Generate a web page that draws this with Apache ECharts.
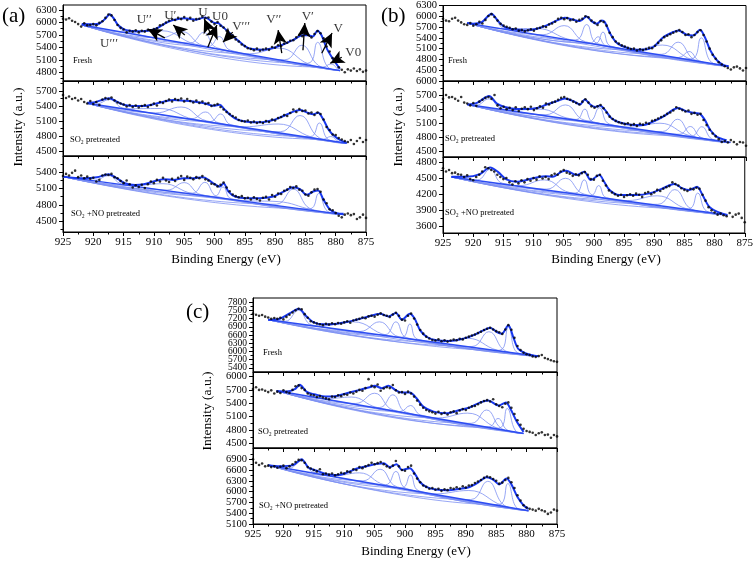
<!DOCTYPE html>
<html><head><meta charset="utf-8">
<script src="https://cdn.jsdelivr.net/npm/echarts@6/dist/echarts.min.js"></script>
<style>html,body{margin:0;padding:0;background:#fff}#c{width:756px;height:561px}</style>
</head><body><div id="c"></div>
<script>
const SERIF = '"Liberation Serif","DejaVu Serif",serif';

// Binding energy of the measured points (eV)
const energy = [925,924.5,924,923.5,923,922.5,922,921.5,921,920.5,
920,919.5,919,918.5,918,917.5,917,916.5,916,915.5,
915,914.5,914,913.5,913,912.5,912,911.5,911,910.5,
910,909.5,909,908.5,908,907.5,907,906.5,906,905.5,
905,904.5,904,903.5,903,902.5,902,901.5,901,900.5,
900,899.5,899,898.5,898,897.5,897,896.5,896,895.5,
895,894.5,894,893.5,893,892.5,892,891.5,891,890.5,
890,889.5,889,888.5,888,887.5,887,886.5,886,885.5,
885,884.5,884,883.5,883,882.5,882,881.5,881,880.5,
880,879.5,879,878.5,878,877.5,877,876.5,876,875.5,
875];

// ---------- (a) ----------
const scatA1 = [6090,6070,6100,6040,6010,5960,5900,5980,5930,5940,
5960,5930,5990,6030,6110,6190,6170,6060,5940,5870,
5830,5760,5800,5780,5810,5760,5800,5780,5820,5790,
5840,5860,5930,5950,6000,6040,6080,6060,6110,6080,
6130,6060,6110,6040,6080,6090,6140,6100,6120,6020,
5960,6010,5920,5880,5800,5720,5690,5590,5540,5470,
5430,5380,5360,5330,5370,5320,5350,5370,5340,5410,
5390,5450,5430,5490,5510,5560,5570,5640,5700,5670,
5720,5700,5640,5720,5790,5740,5620,5420,5300,5140,
5050,4920,4860,4800,4870,4840,4890,4830,4870,4810,
4840];
const fitA1 = [[921.9,5960],[920,5955],[919,5975],[918,6090],[917.3,6200],[916.5,6070],[916,5950],[915,5840],[914,5800],[912,5790],[910,5830],[909,5900],[908,5990],[907,6050],[906,6085],[905,6100],[904,6085],[903,6065],[902,6110],[901.5,6120],[900.8,6060],[900,5990],[899.4,5985],[899,5940],[898,5810],[897,5680],[896,5550],[895,5430],[894,5365],[892,5340],[890,5400],[888.5,5480],[887,5580],[885.5,5690],[884.5,5690],[883.8,5660],[883,5800],[882.3,5680],[881.5,5380],[880.5,5130],[879.3,4880]];
const baseA1 = [[921.9,5940],[879.3,4840]];
const compA1 = [
[[919.8,5910],[917.3,6170],[914.8,5782]],
[[914.3,5761],[908.7,5800],[903.1,5474]],
[[908.9,5626],[905.4,5780],[901.9,5444]],
[[904.0,5506],[901.8,5760],[899.6,5389]],
[[901.0,5423],[899.2,5660],[897.4,5332]],
[[894.2,5246],[889.3,5380],[884.4,4994]],
[[888.4,5101],[885.6,5450],[882.8,4959]],
[[884.7,5013],[883,5520],[881.3,4927]],
[[882.1,4925],[880.8,5000],[879.5,4855]]];

const scatA2 = [5620,5560,5590,5540,5560,5510,5540,5480,5450,5500,
5440,5480,5420,5530,5560,5540,5570,5510,5470,5450,
5430,5390,5420,5380,5410,5370,5400,5420,5380,5420,
5450,5410,5480,5460,5500,5530,5490,5540,5520,5550,
5490,5540,5500,5470,5510,5460,5490,5440,5460,5400,
5420,5440,5380,5330,5280,5240,5200,5170,5120,5100,
5090,5110,5070,5090,5060,5080,5060,5100,5080,5130,
5110,5160,5180,5220,5200,5260,5330,5280,5340,5300,
5310,5250,5270,5220,5270,5240,5130,4980,4920,4830,
4820,4760,4730,4700,4680,4720,4640,4700,4760,4680,
4720];
const fitA2 = [[921,5467],[920,5470],[918.9,5507],[917.4,5553],[916.1,5487],[914.8,5420],[913.4,5400],[911.7,5400],[910.1,5433],[908.4,5487],[906.8,5520],[905.1,5507],[903.2,5487],[901.5,5450],[900.2,5405],[899.1,5425],[898.5,5353],[897.4,5220],[896.3,5133],[894.7,5087],[892.5,5073],[890.3,5120],[888.6,5200],[887,5287],[885.9,5320],[884.8,5273],[883.7,5233],[882.9,5267],[882,5120],[881.2,4933],[880.4,4820],[879.3,4720],[878.2,4667]];
const baseA2 = [[921,5453],[878.2,4653]];
const compA2 = [
[[919.5,5441],[917.3,5530],[915.1,5359]],
[[914.6,5345],[909,5350],[903.4,5135]],
[[909.7,5262],[905.5,5380],[901.3,5103]],
[[903.7,5147],[901.5,5280],[899.3,5063]],
[[900.7,5089],[899,5240],[897.3,5026]],
[[895.1,4985],[889.5,5040],[883.9,4775]],
[[889.1,4887],[885.9,5210],[882.7,4763]],
[[884.2,4788],[882.7,5060],[881.2,4727]],
[[882.1,4735],[880.8,4790],[879.5,4685]]];

const scatA3 = [5330,5370,5340,5390,5430,5310,5340,5290,5320,5280,
5300,5230,5260,5340,5360,5350,5370,5310,5290,5240,
5200,5250,5180,5120,5160,5130,5170,5110,5180,5230,
5200,5260,5230,5300,5250,5220,5280,5240,5300,5330,
5260,5320,5300,5270,5310,5290,5330,5270,5250,5190,
5180,5140,5170,5210,5120,5050,4990,4960,4940,4960,
4920,4930,4900,4940,4910,4880,4930,4950,4900,4980,
4950,5010,5000,5060,5080,5130,5110,5140,5080,5060,
4990,4970,5030,5080,5090,5040,4900,4830,4720,4700,
4650,4600,4570,4620,4640,4610,4630,4540,4570,4620,
4560];
const fitA3 = [[925,5320],[921.6,5290],[919.4,5308],[917.5,5363],[916.1,5290],[914.8,5198],[913.1,5167],[911.7,5180],[910.1,5229],[908.4,5271],[906.8,5259],[905.1,5290],[903.5,5290],[902.1,5308],[901.6,5302],[900.2,5198],[899.1,5137],[898.5,5198],[897.7,5045],[896.6,4953],[894.7,4922],[892.5,4922],[890.3,4953],[888.6,5045],[887,5124],[885.9,5088],[884.8,4984],[883.7,5045],[882.9,5063],[882,4892],[880.9,4708],[879.8,4647],[878.7,4635]];
const baseA3 = [[925,5320],[878.7,4620]];
const compA3 = [
[[919.7,5255],[917.5,5340],[915.3,5185]],
[[913.4,5156],[908.5,5190],[903.6,5009]],
[[907.8,5072],[905,5210],[902.2,4988]],
[[903.7,5014],[901.6,5215],[899.5,4951]],
[[900,4956],[898.6,5130],[897.2,4912]],
[[895.1,4879],[889.5,4860],[883.9,4711]],
[[889.8,4812],[887,5090],[884.2,4728]],
[[884.3,4727],[882.8,5010],[881.3,4678]]];

// ---------- (b) ----------
const scatB1 = [5930,5880,5860,5930,5960,5880,5830,5780,5760,5810,
5740,5780,5850,5800,5900,6010,6060,5980,5880,5790,
5740,5710,5680,5640,5660,5600,5620,5580,5610,5640,
5600,5660,5680,5720,5700,5770,5800,5850,5930,5960,
5920,5950,5890,5910,5850,5900,5930,6000,5970,5880,
5820,5760,5870,5840,5740,5540,5420,5300,5240,5190,
5160,5120,5090,5100,5050,5080,5060,5090,5120,5110,
5180,5260,5330,5420,5460,5500,5540,5580,5620,5560,
5480,5500,5420,5480,5560,5610,5480,5300,5100,4930,
4820,4720,4660,4610,4560,4520,4580,4600,4550,4490,
4560];
const fitB1 = [[921,5815],[920,5795],[918.6,5838],[917,6069],[915.9,5866],[914.8,5700],[912.8,5626],[911.2,5608],[909.5,5654],[907.9,5746],[906.2,5885],[904.9,5958],[903.5,5903],[902.4,5866],[901.3,5995],[900.5,5866],[899.6,5792],[898.8,5885],[898.3,5838],[897.4,5515],[896.3,5257],[894.7,5128],[893,5072],[891.9,5072],[890.3,5146],[888.6,5423],[887,5562],[886.2,5608],[884.8,5488],[883.7,5469],[882.6,5626],[881.8,5423],[880.9,5054],[879.8,4777],[878.7,4639],[877.9,4610]];
const baseB1 = [[921,5810],[877.9,4610]];
const compB1 = [
[[919.2,5777],[917,6040],[914.8,5653]],
[[915.1,5659],[909.5,5660],[903.9,5346]],
[[908.5,5488],[905,5740],[901.5,5292]],
[[903.1,5344],[901.3,5770],[899.5,5241]],
[[900.7,5256],[899.4,5430],[898.1,5184]],
[[899.9,5241],[898.6,5560],[897.3,5169]],
[[893.7,5064],[888.8,5200],[883.9,4791]],
[[888.9,4942],[886.2,5280],[883.5,4793]],
[[886.1,4854],[884.4,5020],[882.7,4761]],
[[884.1,4814],[882.4,5400],[880.7,4721]]];

const scatB2 = [5620,5700,5650,5660,5620,5580,5660,5540,5520,5480,
5530,5470,5560,5600,5640,5660,5620,5700,5480,5420,
5450,5400,5430,5380,5440,5360,5410,5440,5400,5450,
5380,5420,5460,5430,5520,5500,5540,5560,5600,5640,
5660,5620,5600,5560,5530,5500,5560,5610,5540,5460,
5430,5460,5490,5420,5330,5240,5190,5150,5120,5100,
5080,5100,5060,5080,5040,5090,5070,5110,5090,5150,
5170,5200,5230,5260,5300,5330,5370,5440,5410,5380,
5350,5370,5300,5320,5280,5300,5170,5060,4960,4880,
4820,4760,4700,4720,4690,4740,4700,4650,4700,4690,
4620];
const fitB2 = [[921,5500],[919.4,5534],[917.4,5678],[916.1,5519],[914.8,5447],[912.8,5404],[911.2,5404],[909.5,5425],[907.9,5498],[906.2,5570],[904.9,5628],[903.5,5570],[902.4,5498],[901.6,5606],[900.7,5498],[899.9,5447],[899.1,5476],[898.3,5389],[897.2,5208],[895.8,5114],[893.6,5064],[891.9,5064],[890.3,5136],[888.6,5245],[887,5389],[886.2,5425],[884.8,5353],[883.4,5317],[882.6,5300],[881.8,5172],[880.9,4955],[879.8,4811],[878.2,4738]];
const baseB2 = [[921,5500],[877.6,4690]];
const compB2 = [
[[919.5,5486],[917.4,5620],[915.3,5409]],
[[913.9,5381],[909,5400],[904.1,5199]],
[[908,5282],[904.8,5490],[901.6,5163]],
[[903,5182],[901.6,5400],[900.2,5128]],
[[900.9,5144],[899.2,5430],[897.5,5081]],
[[894.1,5016],[889.2,5100],[884.3,4834]],
[[888.8,4923],[886.3,5185],[883.8,4827]],
[[886,4865],[884.2,5030],[882.4,4795]],
[[884,4824],[882.3,5025],[880.6,4761]]];

const scatB3 = [4680,4620,4650,4590,4600,4570,4560,4520,4550,4480,
4460,4520,4560,4620,4700,4680,4650,4620,4560,4520,
4480,4500,4420,4380,4440,4400,4460,4420,4480,4450,
4500,4470,4530,4490,4520,4480,4550,4580,4560,4620,
4650,4600,4580,4540,4570,4550,4590,4610,4560,4480,
4470,4540,4560,4450,4360,4270,4230,4200,4170,4190,
4150,4180,4200,4170,4210,4190,4150,4220,4240,4200,
4230,4280,4260,4300,4330,4350,4420,4390,4360,4310,
4280,4260,4300,4290,4320,4300,4190,4080,3960,3900,
3860,3820,3840,3810,3790,3850,3780,3820,3840,3760,
3680];
const fitB3 = [[923.6,4523],[921.1,4523],[918.9,4572],[917.2,4695],[915.9,4615],[914.5,4474],[912.8,4431],[911.2,4462],[909.5,4511],[907.9,4535],[906.8,4523],[905.4,4615],[904.6,4634],[902.9,4554],[901.6,4615],[900.5,4462],[899.1,4554],[898.3,4431],[897.4,4277],[895.8,4185],[893,4185],[890.8,4215],[888.6,4308],[886.7,4388],[885.3,4308],[884.2,4277],[882.9,4338],[882,4185],[880.9,3969],[879.6,3877],[877.9,3815]];
const baseB3 = [[923.6,4520],[877.9,3815]];
const compB3 = [
[[919.3,4464],[917.2,4660],[915.1,4401]],
[[912.4,4358],[908.2,4465],[904,4232]],
[[907.8,4294],[904.7,4495],[901.6,4201]],
[[903.1,4221],[901.6,4465],[900.1,4174]],
[[900.5,4176],[899.2,4360],[897.9,4134]],
[[894.4,4082],[889.5,4170],[884.6,3928]],
[[889.4,4012],[886.6,4285],[883.8,3923]],
[[884.3,3931],[882.8,4220],[881.3,3884]]];

// ---------- (c) ----------
const scatC1 = [7380,7340,7300,7330,7270,7240,7190,7220,7190,7230,
7170,7260,7340,7420,7500,7560,7540,7360,7230,7100,
7060,7020,6990,6960,7010,6980,7030,6990,7040,7010,
7060,7100,7050,7130,7160,7190,7240,7210,7280,7300,
7270,7340,7390,7330,7300,7260,7350,7410,7300,7160,
7130,7300,7380,7200,6980,6780,6650,6540,6470,6420,
6400,6440,6370,6410,6360,6400,6430,6410,6460,6440,
6500,6540,6580,6620,6670,6720,6780,6830,6860,6800,
6740,6700,6640,6800,6960,6790,6500,6200,6050,5950,
5900,5870,5820,5800,5830,5870,5760,5720,5680,5640,
5620];
const fitC1 = [[922.5,7158],[920.6,7194],[918.9,7400],[917.5,7558],[916.2,7279],[915.1,7073],[913.4,6988],[911.2,7012],[909.6,7073],[908,7158],[906.3,7255],[904.1,7376],[902.7,7279],[901.5,7400],[900.5,7158],[899.2,7376],[898.4,7194],[897.5,6770],[896.4,6527],[894.8,6406],[892.6,6382],[890.4,6467],[888.8,6588],[887.1,6770],[886,6867],[884.9,6709],[884.1,6649],[883,6952],[882.2,6527],[881.4,6103],[880,5921],[878.1,5824]];
const baseC1 = [[922.5,7158],[878.1,5824]];
const compC1 = [
[[919.7,7099],[917.5,7500],[915.3,6966]],
[[914.1,6923],[908.5,7080],[902.9,6587]],
[[907.4,6728],[904.2,7080],[901,6532]],
[[903.3,6611],[901.5,7080],[899.7,6499]],
[[900.5,6521],[899.2,7000],[897.9,6444]],
[[894.6,6337],[889.7,6480],[884.8,6043]],
[[889,6179],[886.2,6720],[883.4,6011]],
[[884.5,6042],[883,6880],[881.5,5953]]];

const scatC2 = [5720,5760,5700,5710,5680,5650,5690,5620,5660,5630,
5690,5650,5630,5700,5780,5800,5740,5700,5620,5590,
5580,5540,5560,5530,5510,5490,5550,5540,5580,5560,
5600,5590,5640,5620,5660,5700,5680,5740,5940,5790,
5760,5820,5680,5730,5760,5740,5810,5690,5640,5650,
5610,5660,5620,5550,5460,5370,5300,5250,5220,5200,
5170,5210,5160,5190,5150,5200,5220,5180,5240,5270,
5250,5300,5330,5340,5380,5420,5450,5470,5440,5490,
5380,5340,5310,5390,5420,5300,5160,5020,4920,4830,
4780,4760,4740,4690,4730,4750,4690,4700,4630,4690,
4660];
const fitC2 = [[921.1,5663],[919.5,5663],[918.1,5715],[917.3,5813],[916.2,5663],[914.5,5588],[912.9,5550],[911.2,5565],[909.6,5625],[907.4,5700],[905.8,5760],[905,5790],[903.8,5738],[902.7,5790],[901.6,5700],[900.5,5640],[899.2,5640],[898.1,5513],[897,5325],[895.3,5213],[893.2,5175],[891,5250],[889.3,5310],[887.7,5415],[886.3,5460],[884.6,5350],[883.4,5420],[882.6,5260],[881.6,4988],[880.5,4760]];
const baseC2 = [[921.1,5680],[880.5,4725]];
const compC2 = [
[[919.3,5653],[917.3,5780],[915.3,5559]],
[[913,5503],[908.8,5540],[904.6,5307]],
[[908.1,5396],[905,5625],[901.9,5249]],
[[904.2,5305],[902,5590],[899.8,5200]],
[[900.8,5217],[899.1,5350],[897.4,5138]],
[[894.6,5073],[889.7,5180],[884.8,4842]],
[[889.1,4952],[886.6,5250],[884.1,4833]],
[[886.2,4875],[884.7,5060],[883.2,4805]],
[[884.6,4844],[883.2,5285],[881.8,4781]]];

const scatC3 = [6900,6800,6740,6780,6700,6720,6680,6700,6660,6690,
6720,6650,6700,6760,6820,6880,6870,6800,6680,6640,
6600,6560,6620,6480,6500,6470,6500,6450,6480,6520,
6500,6560,6540,6620,6600,6680,6650,6700,6740,6800,
6760,6790,6820,6760,6700,6660,6720,6850,6700,6600,
6580,6680,6720,6500,6360,6260,6170,6130,6080,6100,
6050,6080,6020,6060,6040,6100,6080,6120,6080,6150,
6110,6170,6180,6240,6280,6320,6380,6420,6400,6350,
6300,6220,6250,6320,6380,6260,6100,5900,5750,5620,
5560,5520,5500,5470,5520,5480,5450,5380,5420,5500,
5470];
const fitC3 = [[922.5,6734],[920.6,6706],[918.4,6734],[917,6900],[915.9,6669],[914.5,6577],[912.9,6485],[911.2,6457],[909.6,6522],[907.9,6642],[906.3,6706],[904.5,6770],[903.5,6790],[902.5,6680],[901.4,6760],[900.5,6600],[899.2,6650],[898.3,6470],[897.5,6260],[896.5,6130],[895,6060],[893,6040],[891,6080],[889.5,6120],[888,6250],[886.6,6400],[885.5,6330],[884.5,6200],[883.3,6360],[882.5,6200],[881.5,5850],[880.5,5620],[879.7,5520]];
const baseC3 = [[922.5,6734],[879.7,5469]];
const compC3 = [
[[919,6653],[917,6860],[915,6534]],
[[911.7,6436],[907.5,6520],[903.3,6186]],
[[906.9,6299],[904.1,6620],[901.3,6131]],
[[903.2,6189],[901.5,6560],[899.8,6086]],
[[900.5,6104],[899.1,6460],[897.7,6020]],
[[895.1,5937],[889.5,6030],[883.9,5608]],
[[889.2,5779],[886.4,6285],[883.6,5611]],
[[884.6,5638],[883.1,6220],[881.6,5547]]];

// Y tick labels per sub-plot
const yTicksA1 = [4800,5100,5400,5700,6000,6300];
const yTicksA2 = [4500,4800,5100,5400,5700];
const yTicksA3 = [4500,4800,5100,5400];
const yTicksB1 = [4500,4800,5100,5400,5700,6000,6300];
const yTicksB2 = [4500,4800,5100,5400,5700,6000];
const yTicksB3 = [3600,3900,4200,4500,4800];
const yTicksC1 = [5400,5700,6000,6300,6600,6900,7200,7500,7800];
const yTicksC2 = [4500,4800,5100,5400,5700,6000];
const yTicksC3 = [5100,5400,5700,6000,6300,6600,6900];
const xTicks = [925,920,915,910,905,900,895,890,885,880,875];

// peak-assignment annotations in (a) Fresh: label, x, y
const annoLabels = [["U\u2032\u2032\u2032",917.4,5500],["U\u2032\u2032",911.6,6080],["U\u2032",907.3,6155],["U",901.9,6230],["U0",899.1,6130],
["V\u2032\u2032\u2032",895.6,5910],["V\u2032\u2032",890.2,6060],["V\u2032",884.6,6130],["V",879.6,5860],["V0",877.1,5280]];
// arrows: tail x, tail y, head x, head y
const annoArrows = [[908.2,5630,911.0,5840],[904.9,5695,906.8,5937],[900.7,5744,901.7,6082],[901.1,5405,899.6,5937],
[897.0,5768,898.6,5526],[888.9,5260,889.5,5816],[885.4,5330,885.1,5985],[882.3,5260,880.6,5744],[879.0,5163,880.9,5018]];

const panels = [
 {g:{left:63,top:5,width:303,height:76}, y:[4590,6420], t:yTicksA1, s:scatA1, f:fitA1, b:baseA1, c:compA1, xl:false},
 {g:{left:63,top:81,width:303,height:75}, y:[4400,5900], t:yTicksA2, s:scatA2, f:fitA2, b:baseA2, c:compA2, xl:false},
 {g:{left:63,top:156,width:303,height:76}, y:[4300,5700], t:yTicksA3, s:scatA3, f:fitA3, b:baseA3, c:compA3, xl:true},
 {g:{left:443,top:5,width:303,height:76}, y:[4200,6300], t:yTicksB1, s:scatB1, f:fitB1, b:baseB1, c:compB1, xl:false},
 {g:{left:443,top:81,width:303,height:76}, y:[4380,6000], t:yTicksB2, s:scatB2, f:fitB2, b:baseB2, c:compB2, xl:false},
 {g:{left:443,top:157,width:303,height:76}, y:[3480,4890], t:yTicksB3, s:scatB3, f:fitB3, b:baseB3, c:compB3, xl:true},
 {g:{left:253,top:298,width:304,height:74}, y:[5250,7950], t:yTicksC1, s:scatC1, f:fitC1, b:baseC1, c:compC1, xl:false},
 {g:{left:253,top:372,width:304,height:76}, y:[4400,6100], t:yTicksC2, s:scatC2, f:fitC2, b:baseC2, c:compC2, xl:false},
 {g:{left:253,top:448,width:304,height:76}, y:[5100,7210], t:yTicksC3, s:scatC3, f:fitC3, b:baseC3, c:compC3, xl:true}
];

const grid = [], xAxis = [], yAxis = [], series = [];
panels.forEach((p, i) => {
  grid.push(Object.assign({show:true, borderColor:'#000', borderWidth:1, backgroundColor:'transparent', containLabel:false}, p.g));
  xAxis.push({gridIndex:i, type:'value', min:875, max:925, interval:5, inverse:true,
    axisLine:{show:true, onZero:false, lineStyle:{color:'#000', width:1}},
    axisTick:{show:true, length:4, lineStyle:{color:'#000'}},
    minorTick:{show:true, splitNumber:2, length:2.5, lineStyle:{color:'#000'}},
    axisLabel:{show:p.xl, color:'#000', fontFamily:SERIF, fontSize:11, margin:5,
      formatter: v => xTicks.indexOf(v) >= 0 ? String(v) : ''},
    splitLine:{show:false}, minorSplitLine:{show:false}});
  const minors = [];
  for (let k = 0; k < p.t.length; k++) {
    const m1 = p.t[k] - 150; if (m1 > p.y[0]) minors.push(m1);
  }
  const mTop = p.t[p.t.length-1] + 150; if (mTop < p.y[1]) minors.push(mTop);
  const evenT = p.t.filter((v, k) => k % 2 === 0), oddT = p.t.filter((v, k) => k % 2 === 1);
  const lab = (vals) => ({show:true, customValues:vals, hideOverlap:false, formatter: v => String(v),
      color:'#000', fontFamily:SERIF, fontSize:(i===6?9.5:10.5), margin:6});
  const yi = yAxis.length;
  yAxis.push({gridIndex:i, type:'value', min:p.y[0], max:p.y[1], position:'left',
    axisLine:{show:true, onZero:false, lineStyle:{color:'#000', width:1}},
    axisTick:{show:true, length:4, customValues:p.t, lineStyle:{color:'#000'}},
    axisLabel:lab(evenT), splitLine:{show:false}});
  yAxis.push({gridIndex:i, type:'value', min:p.y[0], max:p.y[1], position:'left', offset:0,
    axisLine:{show:false}, axisTick:{show:false}, axisLabel:lab(oddT), splitLine:{show:false}});
  yAxis.push({gridIndex:i, type:'value', min:p.y[0], max:p.y[1], position:'left', offset:0,
    axisLine:{show:false}, axisTick:{show:true, length:2.5, customValues:minors, lineStyle:{color:'#000'}},
    axisLabel:{show:false}, splitLine:{show:false}});
  p.c.forEach(comp => {
    series.push({type:'line', xAxisIndex:i, yAxisIndex:yi, data:[p.b[0], ...comp, p.b[1]], smooth:0.45,
      showSymbol:false, silent:true, animation:false, z:2, lineStyle:{color:'#7d90f3', width:0.8}});
  });
  series.push({type:'line', xAxisIndex:i, yAxisIndex:yi, data:p.b, showSymbol:false, silent:true, animation:false, z:3,
    lineStyle:{color:'#2c4cf2', width:1.5}});
  const fitSeries = {type:'line', xAxisIndex:i, yAxisIndex:yi, data:p.f, smooth:0.3, showSymbol:false, silent:true, animation:false, z:4,
    lineStyle:{color:'#1838f0', width:2}};
  if (i === 0) {
    fitSeries.markLine = {silent:true, animation:false, symbol:['none','arrow'], symbolSize:[10,14], label:{show:false},
      lineStyle:{color:'#000', width:1.3, type:'solid'},
      data: annoArrows.map(a => [{coord:[a[0],a[1]]},{coord:[a[2],a[3]]}])};
  }
  series.push(fitSeries);
  series.push({type:'scatter', xAxisIndex:i, yAxisIndex:yi, data: energy.map((x,k)=>[x, p.s[k]]),
    symbol:'circle', symbolSize:2.6, itemStyle:{color:'#000'}, silent:true, animation:false, z:5});
});
series.push({type:'scatter', xAxisIndex:0, yAxisIndex:0, silent:true, animation:false, z:6,
  symbol:'circle', symbolSize:1, itemStyle:{color:'transparent'},
  data: annoLabels.map(a => ({name:a[0], value:[a[1], a[2]]})),
  label:{show:true, position:'inside', formatter:'{b}', color:'#000', fontFamily:SERIF, fontSize:13}});

const txt = (x, y, text, size, extra) => Object.assign({type:'text', x:x, y:y, silent:true,
  style:Object.assign({text:text, fill:'#000', fontFamily:SERIF, fontSize:size, align:'left', verticalAlign:'middle'}, extra||{})});
const graphic = [
  txt(2, 16, '(a)', 21), txt(381, 16, '(b)', 21), txt(186, 312, '(c)', 21),
  Object.assign(txt(18, 127, 'Intensity (a.u.)', 13.5, {align:'center'}), {rotation:Math.PI/2}),
  Object.assign(txt(398, 127, 'Intensity (a.u.)', 13.5, {align:'center'}), {rotation:Math.PI/2}),
  Object.assign(txt(207, 411, 'Intensity (a.u.)', 13.5, {align:'center'}), {rotation:Math.PI/2}),
  txt(226, 260, 'Binding Energy (eV)', 13, {align:'center'}),
  txt(606, 260, 'Binding Energy (eV)', 13, {align:'center'}),
  txt(416, 552, 'Binding Energy (eV)', 13, {align:'center'}),
  txt(73, 61, 'Fresh', 8.5), txt(70, 140, 'SO\u2082 pretreated', 8.5), txt(71, 214, 'SO\u2082 +NO pretreated', 8.5),
  txt(448, 61, 'Fresh', 8.5), txt(445, 139, 'SO\u2082 pretreated', 8.5), txt(445, 213, 'SO\u2082 +NO pretreated', 8.5),
  txt(263, 353, 'Fresh', 8.5), txt(258, 432, 'SO\u2082 pretreated', 8.5), txt(259, 506, 'SO\u2082 +NO pretreated', 8.5)
];

const chart = echarts.init(document.getElementById('c'), null, {renderer:'canvas'});
chart.setOption({backgroundColor:'#fff', animation:false, grid, xAxis, yAxis, series, graphic});
</script></body></html>
